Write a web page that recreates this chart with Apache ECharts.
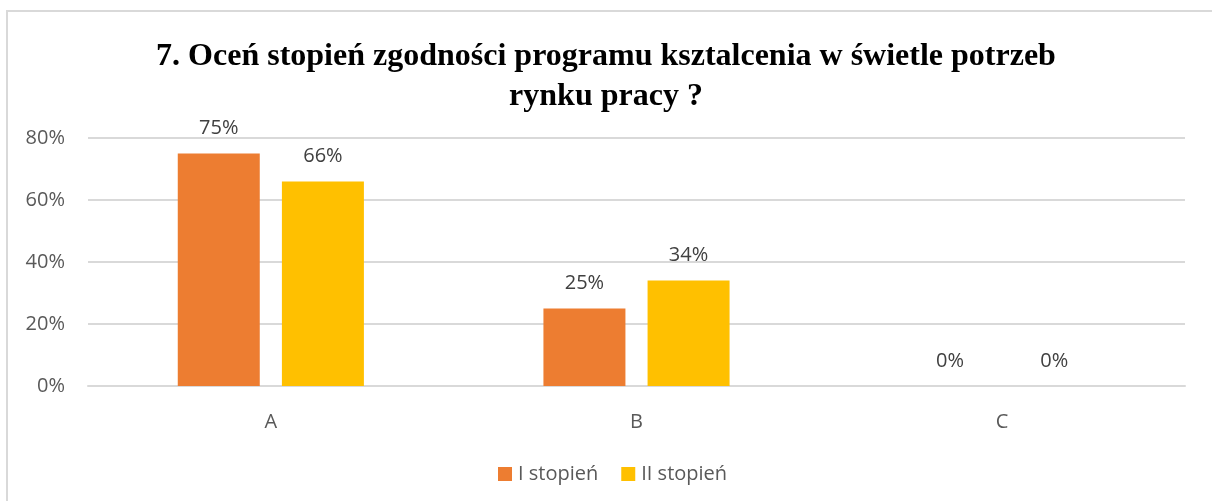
<!DOCTYPE html>
<html>
<head>
<meta charset="utf-8">
<script src="https://cdn.jsdelivr.net/npm/echarts@6/dist/echarts.min.js"></script>
<style>
  html, body { margin: 0; padding: 0; background: #fff; overflow: hidden; }
  #chart { position: absolute; left: 0; top: 0; width: 1212px; height: 501px; }
</style>
</head>
<body>
<div id="chart"></div>
<script>
// kategorie i wartości (w %)
const categories = ['A', 'B', 'C'];
const seriesNames = ['I stopień', 'II stopień'];
const firstDegree = [75, 25, 0];
const secondDegree = [66, 34, 0];
const yTicks = [0, 20, 40, 60, 80];

const chart = echarts.init(document.getElementById('chart'));

const labelFont = "'Open Sans', 'Liberation Sans', sans-serif";

const dataLabel = {
    show: true,
    position: 'top',
    distance: 15,
    color: '#404040',
    fontFamily: labelFont,
    fontSize: 20,
    formatter: p => p.value + '%'
};

chart.setOption({
    animation: false,
    // ramka wykresu (tylko lewa i górna krawędź widoczna)
    graphic: [{
        type: 'polyline',
        shape: { points: [[7, 520], [7, 11], [1230, 11]] },
        style: { stroke: '#d9d9d9', lineWidth: 2, fill: null },
        silent: true
    }],
    title: {
        text: '7. Oceń stopień zgodności programu ksztalcenia w świetle potrzeb\nrynku pracy ?',
        left: 'center',
        top: 32,
        textStyle: {
            fontFamily: "'Liberation Serif', 'Times New Roman', serif",
            fontWeight: 'bold',
            fontSize: 32,
            lineHeight: 40,
            color: '#000'
        }
    },
    legend: {
        bottom: 17,
        left: 498,
        padding: 0,
        itemWidth: 14,
        itemHeight: 14,
        itemGap: 23,
        icon: 'rect',
        textStyle: { color: '#595959', fontFamily: labelFont, fontSize: 20, padding: [0, 0, 0, 1] },
        data: seriesNames
    },
    grid: { left: 88, right: 27, top: 138, bottom: 115 },
    xAxis: {
        type: 'category',
        data: categories,
        axisLine: { lineStyle: { color: '#d9d9d9', width: 2 } },
        axisTick: { show: false },
        axisLabel: { color: '#595959', fontFamily: labelFont, fontSize: 20, margin: 26 }
    },
    yAxis: {
        type: 'value',
        min: yTicks[0],
        max: yTicks[yTicks.length - 1],
        interval: 20,
        axisLine: { show: false },
        axisTick: { show: false },
        splitLine: { lineStyle: { color: '#d9d9d9', width: 2 } },
        axisLabel: {
            color: '#595959', fontFamily: labelFont, fontSize: 20, margin: 23,
            formatter: v => v + '%'
        }
    },
    series: [
        {
            name: seriesNames[0],
            type: 'bar',
            data: firstDegree,
            barWidth: 82,
            barGap: '27%',
            itemStyle: { color: '#ed7d31' },
            label: dataLabel
        },
        {
            name: seriesNames[1],
            type: 'bar',
            data: secondDegree,
            barWidth: 82,
            itemStyle: { color: '#ffc000' },
            label: dataLabel
        }
    ]
});
</script>
</body>
</html>
